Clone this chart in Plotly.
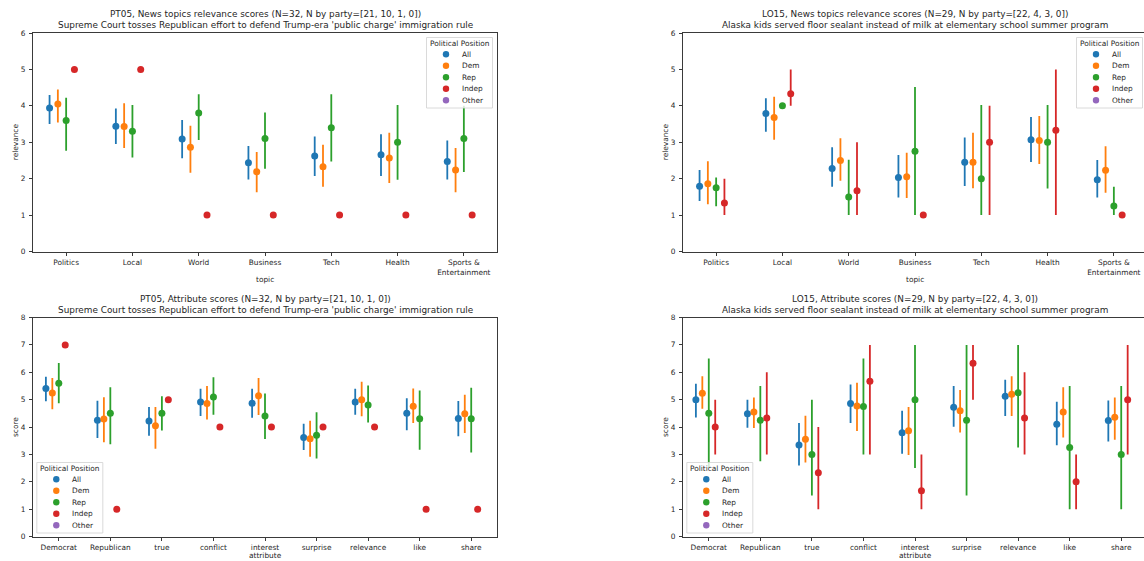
import numpy as np
import plotly.graph_objects as go

W, H = 1144, 561
FONT = "DejaVu Sans"
INK = "#262626"

hues = ["All", "Dem", "Rep", "Indep", "Other"]
hue_colors = ["#1f77b4", "#ff7f0e", "#2ca02c", "#d62728", "#9467bd"]

topics = ["Politics", "Local", "World", "Business", "Tech", "Health", "Sports &<br>Entertainment"]
attributes = ["Democrat", "Republican", "true", "conflict", "interest",
              "surprise", "relevance", "like", "share"]

# ---- PT05: news topic relevance (mean, lower CI, upper CI) ----
pt05_topic_all_mean = [3.94, 3.44, 3.09, 2.44, 2.62, 2.66, 2.47]
pt05_topic_all_lo   = [3.50, 2.95, 2.56, 1.98, 2.07, 2.07, 1.98]
pt05_topic_all_hi   = [4.30, 3.93, 3.61, 2.90, 3.16, 3.22, 3.05]
pt05_topic_dem_mean = [4.05, 3.43, 2.86, 2.19, 2.33, 2.57, 2.24]
pt05_topic_dem_lo   = [3.54, 2.84, 2.16, 1.63, 1.78, 1.88, 1.63]
pt05_topic_dem_hi   = [4.45, 4.07, 3.45, 2.73, 2.93, 3.26, 2.84]
pt05_topic_rep_mean = [3.60, 3.30, 3.80, 3.10, 3.40, 3.00, 3.10]
pt05_topic_rep_lo   = [2.77, 2.58, 3.06, 2.27, 2.47, 1.97, 2.18]
pt05_topic_rep_hi   = [4.22, 4.02, 4.32, 3.82, 4.32, 4.02, 4.00]
pt05_topic_ind_mean = [5, 5, 1, 1, 1, 1, 1]
pt05_topic_ind_lo   = [5, 5, 1, 1, 1, 1, 1]
pt05_topic_ind_hi   = [5, 5, 1, 1, 1, 1, 1]

# ---- LO15: news topic relevance ----
lo15_topic_all_mean = [1.79, 3.79, 2.28, 2.03, 2.45, 3.07, 1.97]
lo15_topic_all_lo   = [1.39, 3.29, 1.78, 1.48, 1.80, 2.46, 1.48]
lo15_topic_all_hi   = [2.24, 4.21, 2.86, 2.65, 3.13, 3.69, 2.51]
lo15_topic_dem_mean = [1.86, 3.68, 2.50, 2.05, 2.45, 3.05, 2.23]
lo15_topic_dem_lo   = [1.30, 3.07, 1.94, 1.47, 1.74, 2.40, 1.61]
lo15_topic_dem_hi   = [2.48, 4.25, 3.11, 2.71, 3.26, 3.72, 2.89]
lo15_topic_rep_mean = [1.75, 4.00, 1.50, 2.75, 2.00, 3.00, 1.25]
lo15_topic_rep_lo   = [1.24, 4.00, 1.00, 1.00, 1.00, 1.73, 1.00]
lo15_topic_rep_hi   = [2.03, 4.00, 2.52, 4.52, 4.02, 4.02, 1.78]
lo15_topic_ind_mean = [1.33, 4.33, 1.67, 1.00, 3.00, 3.33, 1.00]
lo15_topic_ind_lo   = [1.00, 4.00, 1.00, 1.00, 1.00, 1.00, 1.00]
lo15_topic_ind_hi   = [2.00, 5.00, 3.00, 1.00, 4.00, 5.00, 1.00]

# ---- PT05: attribute scores ----
pt05_attr_all_mean = [5.41, 4.25, 4.22, 4.91, 4.87, 3.62, 4.91, 4.50, 4.31]
pt05_attr_all_lo   = [4.94, 3.60, 3.68, 4.40, 4.34, 3.16, 4.45, 3.88, 3.66]
pt05_attr_all_hi   = [5.84, 4.96, 4.73, 5.40, 5.40, 4.12, 5.40, 5.05, 4.95]
pt05_attr_dem_mean = [5.24, 4.29, 4.05, 4.86, 5.14, 3.57, 5.00, 4.76, 4.48]
pt05_attr_dem_lo   = [4.65, 3.44, 3.21, 4.27, 4.44, 2.91, 4.39, 4.15, 3.78]
pt05_attr_dem_hi   = [5.79, 5.09, 4.73, 5.50, 5.79, 4.23, 5.65, 5.41, 5.18]
pt05_attr_rep_mean = [5.60, 4.50, 4.50, 5.10, 4.40, 3.70, 4.80, 4.30, 4.30]
pt05_attr_rep_lo   = [4.87, 3.37, 3.87, 4.45, 3.56, 2.85, 4.16, 3.17, 3.07]
pt05_attr_rep_hi   = [6.34, 5.45, 5.12, 5.82, 5.22, 4.54, 5.52, 5.33, 5.43]
pt05_attr_ind_mean = [7, 1, 5, 4, 4, 4, 4, 1, 1]
pt05_attr_ind_lo   = [7, 1, 5, 4, 4, 4, 4, 1, 1]
pt05_attr_ind_hi   = [7, 1, 5, 4, 4, 4, 4, 1, 1]

# ---- LO15: attribute scores ----
lo15_attr_all_mean = [5.00, 4.48, 3.34, 4.86, 3.79, 4.72, 5.12, 4.10, 4.24]
lo15_attr_all_lo   = [4.35, 3.97, 2.59, 4.15, 3.02, 4.01, 4.40, 3.33, 3.47]
lo15_attr_all_hi   = [5.58, 5.00, 4.15, 5.55, 4.59, 5.50, 5.73, 4.92, 4.97]
lo15_attr_dem_mean = [5.23, 4.55, 3.55, 4.77, 3.86, 4.59, 5.20, 4.55, 4.36]
lo15_attr_dem_lo   = [4.67, 3.96, 2.70, 3.85, 2.98, 3.80, 4.40, 3.62, 3.53]
lo15_attr_dem_hi   = [5.85, 5.08, 4.41, 5.62, 4.73, 5.35, 5.85, 5.45, 5.08]
lo15_attr_rep_mean = [4.50, 4.25, 3.00, 4.75, 5.00, 4.25, 5.25, 3.25, 3.00]
lo15_attr_rep_lo   = [2.50, 2.75, 1.50, 3.00, 2.50, 1.50, 3.25, 1.00, 1.00]
lo15_attr_rep_hi   = [6.50, 5.50, 5.00, 6.50, 7.00, 7.00, 7.00, 5.50, 5.50]
lo15_attr_ind_mean = [4.00, 4.33, 2.33, 5.67, 1.67, 6.33, 4.33, 2.00, 5.00]
lo15_attr_ind_lo   = [3.00, 3.00, 1.00, 3.00, 1.00, 5.00, 3.00, 1.00, 3.00]
lo15_attr_ind_hi   = [5.00, 6.00, 4.00, 7.00, 3.00, 7.00, 6.00, 3.00, 7.00]

pt05_headline = "Supreme Court tosses Republican effort to defend Trump-era 'public charge' immigration rule"
lo15_headline = "Alaska kids served floor sealant instead of milk at elementary school summer program"

# ---- panel geometry (pixels) ----
PANEL_W = 464
COL_X = [33, 683]
ROW_Y = [(33, 251.5), (317.5, 536.5)]


def px_x(px):
    return px / W


def px_y(py):
    return 1 - py / H


panels = [
    dict(col=0, row=0, cats=topics, ymax=6, ylabel="relevance", xlabel="topic", legend="top",
         title=["PT05, News topics relevance scores (N=32, N by party=[21, 10, 1, 0])", pt05_headline],
         series={"All": (pt05_topic_all_mean, pt05_topic_all_lo, pt05_topic_all_hi),
                 "Dem": (pt05_topic_dem_mean, pt05_topic_dem_lo, pt05_topic_dem_hi),
                 "Rep": (pt05_topic_rep_mean, pt05_topic_rep_lo, pt05_topic_rep_hi),
                 "Indep": (pt05_topic_ind_mean, pt05_topic_ind_lo, pt05_topic_ind_hi)}),
    dict(col=1, row=0, cats=topics, ymax=6, ylabel="relevance", xlabel="topic", legend="top",
         title=["LO15, News topics relevance scores (N=29, N by party=[22, 4, 3, 0])", lo15_headline],
         series={"All": (lo15_topic_all_mean, lo15_topic_all_lo, lo15_topic_all_hi),
                 "Dem": (lo15_topic_dem_mean, lo15_topic_dem_lo, lo15_topic_dem_hi),
                 "Rep": (lo15_topic_rep_mean, lo15_topic_rep_lo, lo15_topic_rep_hi),
                 "Indep": (lo15_topic_ind_mean, lo15_topic_ind_lo, lo15_topic_ind_hi)}),
    dict(col=0, row=1, cats=attributes, ymax=8, ylabel="score", xlabel="attribute", legend="bottom",
         title=["PT05, Attribute scores (N=32, N by party=[21, 10, 1, 0])", pt05_headline],
         series={"All": (pt05_attr_all_mean, pt05_attr_all_lo, pt05_attr_all_hi),
                 "Dem": (pt05_attr_dem_mean, pt05_attr_dem_lo, pt05_attr_dem_hi),
                 "Rep": (pt05_attr_rep_mean, pt05_attr_rep_lo, pt05_attr_rep_hi),
                 "Indep": (pt05_attr_ind_mean, pt05_attr_ind_lo, pt05_attr_ind_hi)}),
    dict(col=1, row=1, cats=attributes, ymax=8, ylabel="score", xlabel="attribute", legend="bottom",
         title=["LO15, Attribute scores (N=29, N by party=[22, 4, 3, 0])", lo15_headline],
         series={"All": (lo15_attr_all_mean, lo15_attr_all_lo, lo15_attr_all_hi),
                 "Dem": (lo15_attr_dem_mean, lo15_attr_dem_lo, lo15_attr_dem_hi),
                 "Rep": (lo15_attr_rep_mean, lo15_attr_rep_lo, lo15_attr_rep_hi),
                 "Indep": (lo15_attr_ind_mean, lo15_attr_ind_lo, lo15_attr_ind_hi)}),
]

fig = go.Figure()
dodge = np.linspace(-0.25, 0.25, len(hues))


def text(x, y, s, size=7.4, anchor="center", angle=0):
    fig.add_annotation(text=s, x=px_x(x), y=px_y(y), xref="paper", yref="paper",
                       showarrow=False, xanchor=anchor, yanchor="middle", textangle=angle,
                       font=dict(family=FONT, size=size, color=INK))


def add_legend(left, top):
    box_w, box_h = 66, 70.5
    fig.add_shape(type="rect", xref="paper", yref="paper",
                  x0=px_x(left), x1=px_x(left + box_w), y0=px_y(top + box_h), y1=px_y(top),
                  line=dict(color="#d0d0d0", width=0.8), fillcolor="rgba(255,255,255,0.8)",
                  layer="above")
    text(left + box_w / 2, top + 5.8, "Political Position")
    for k, (name, color) in enumerate(zip(hues, hue_colors)):
        cy = top + 16.8 + 11.5 * k
        fig.add_shape(type="circle", xref="paper", yref="paper",
                      xsizemode="pixel", ysizemode="pixel",
                      xanchor=px_x(left + 19.5), yanchor=px_y(cy),
                      x0=-3.2, x1=3.2, y0=-3.2, y1=3.2,
                      fillcolor=color, line_width=0, layer="above")
        text(left + 33.5, cy, name, anchor="left")


axis_style = dict(showline=True, linecolor="#3a3a3a", linewidth=1, showgrid=False,
                  zeroline=False, ticks="outside", ticklen=3, tickwidth=1,
                  tickcolor="#3a3a3a", tickfont=dict(family=FONT, size=7.4, color=INK))

for i, p in enumerate(panels):
    x0 = COL_X[p["col"]]
    y0, y1 = ROW_Y[p["row"]]
    right = min(x0 + PANEL_W, W)
    n = len(p["cats"])
    suffix = "" if i == 0 else str(i + 1)
    xa, ya = "x" + suffix, "y" + suffix

    fig.update_layout(**{
        "xaxis" + suffix: dict(axis_style, domain=[px_x(x0), px_x(right)], anchor=ya,
                               range=[-0.5, -0.5 + n * (right - x0) / PANEL_W],
                               tickmode="array", tickvals=list(range(n)), ticktext=p["cats"],
                               mirror=True, ticklabelstandoff=1),
        "yaxis" + suffix: dict(axis_style, domain=[px_y(y1), px_y(y0)], anchor=xa,
                               range=[0, p["ymax"]], dtick=1, tick0=0,
                               mirror=(p["col"] == 0), ticklabelstandoff=2),
    })

    for h, (name, color) in enumerate(zip(hues, hue_colors)):
        if name not in p["series"]:
            continue
        mean, lo, hi = (np.array(v, dtype=float) for v in p["series"][name])
        fig.add_trace(go.Scatter(
            x=np.arange(n) + dodge[h], y=mean, mode="markers", name=name,
            marker=dict(color=color, size=7, line_width=0),
            error_y=dict(type="data", symmetric=False, array=hi - mean, arrayminus=mean - lo,
                         color=color, thickness=1.8, width=0),
            xaxis=xa, yaxis=ya, showlegend=False, hoverinfo="skip"))

    cx = x0 + PANEL_W / 2
    text(cx, y0 - 19, p["title"][0], size=8.9)
    text(cx, y0 - 7.8, p["title"][1], size=8.9)
    text(x0 - 18, (y0 + y1) / 2, p["ylabel"], angle=-90)
    text(cx, y1 + (27.5 if p["row"] == 0 else 19.2), p["xlabel"])

    if p["legend"] == "top":
        add_legend(x0 + 393.5, y0 + 4.5)
    else:
        add_legend(x0 + 3.8, y1 - 74)

fig.update_layout(width=W, height=H, margin=dict(l=0, r=0, t=0, b=0, autoexpand=False),
                  paper_bgcolor="white", plot_bgcolor="white", showlegend=False)

fig.write_html("out.html")
